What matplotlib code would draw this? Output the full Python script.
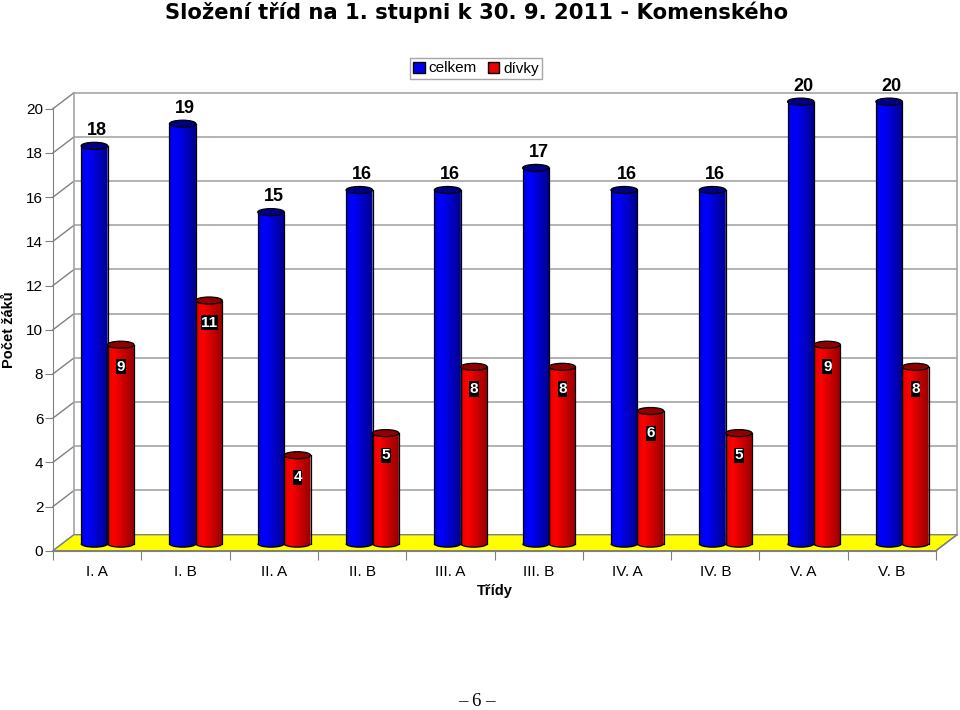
import numpy as np
import matplotlib
matplotlib.use("Agg")
import matplotlib.pyplot as plt
from matplotlib.patches import Arc, Ellipse, Patch, Polygon

classes = ["I. A", "I. B", "II. A", "II. B", "III. A", "III. B", "IV. A", "IV. B", "V. A", "V. B"]
celkem = [18, 19, 15, 16, 16, 17, 16, 16, 20, 20]
divky = [9, 11, 4, 5, 8, 8, 6, 5, 9, 8]
y_ticks = [0, 2, 4, 6, 8, 10, 12, 14, 16, 18, 20]

# hloubka grafu a valcu v jednotkach os
DEPTH_X = 0.238
DEPTH_Y = 0.724
BAR_LIFT = 0.32
BAR_W = 0.30
RY = 0.16
GRID = "#a6a6a6"
AXIS = "#808080"

plt.rcParams["font.family"] = ["Liberation Sans", "DejaVu Sans"]


def cylinder(ax, xc, value, bright, dark):
    base = BAR_LIFT
    top = value + BAR_LIFT
    left = xc - BAR_W / 2
    right = xc + BAR_W / 2
    bright = np.array(bright) / 255
    dark = np.array(dark) / 255
    # gradient: levy okraj trochu tmavsi, svetly pruh, doprava do tmava
    u = np.linspace(-1, 1, 48)
    t = np.where(u > -0.5, (u + 0.5) / 1.5, (-0.5 - u) / 2)
    grad = (bright * (1 - t[:, None]) + dark * t[:, None])[None, :, :]
    im = ax.imshow(grad, extent=(left, right, base - RY, top), aspect="auto",
                   interpolation="bilinear", zorder=4)
    # obrys valce se zaoblenym spodkem
    theta = np.linspace(np.pi, 2 * np.pi, 40)
    outline = np.column_stack([xc + BAR_W / 2 * np.cos(theta), base + RY * np.sin(theta)])
    outline = np.vstack([outline, [right, top], [left, top]])
    clip = Polygon(outline, closed=True, transform=ax.transData)
    im.set_clip_path(clip)
    im.set_clip_box(ax.figure.bbox)
    ax.plot([left, left], [base, top], color="black", lw=0.9, zorder=5, clip_on=False)
    ax.plot([right, right], [base, top], color="black", lw=0.9, zorder=5, clip_on=False)
    ax.add_patch(Arc((xc, base), BAR_W, RY * 2, theta1=180, theta2=360, color="black",
                     lw=0.9, zorder=5, clip_on=False))
    ax.add_patch(Ellipse((xc, top), BAR_W, RY * 2, facecolor=tuple(dark * 0.95), edgecolor="black",
                         lw=0.9, zorder=5, clip_on=False))


fig = plt.figure(figsize=(9.6, 7.1), dpi=100)
ax = fig.add_axes([53 / 960, 1 - 550.7 / 710, 883 / 960, 442 / 710])

# zadni stena a podlaha
ax.add_patch(Polygon([(0, 0), (10, 0), (10 + DEPTH_X, DEPTH_Y), (DEPTH_X, DEPTH_Y)],
                     facecolor="#ffff00", edgecolor=AXIS, lw=1.0, clip_on=False, zorder=2))
for v in y_ticks[1:]:
    ax.plot([DEPTH_X, 10 + DEPTH_X], [v + DEPTH_Y] * 2, color=GRID, lw=1.2, clip_on=False, zorder=1)
for v in y_ticks:
    ax.plot([0, DEPTH_X], [v, v + DEPTH_Y], color=AXIS, lw=1.0, clip_on=False, zorder=1)
ax.plot([DEPTH_X] * 2, [DEPTH_Y, 20 + DEPTH_Y], color=GRID, lw=1.2, clip_on=False, zorder=1)
ax.plot([10 + DEPTH_X] * 2, [DEPTH_Y, 20 + DEPTH_Y], color=GRID, lw=1.2, clip_on=False, zorder=1)
ax.plot([10, 10 + DEPTH_X], [0, DEPTH_Y], color=AXIS, lw=1.0, clip_on=False, zorder=2)

for i, (c, d) in enumerate(zip(celkem, divky)):
    xb = i + 0.469
    xr = i + 0.767
    cylinder(ax, xb, c, (0, 0, 255), (0, 0, 140))
    cylinder(ax, xr, d, (255, 0, 0), (150, 0, 0))
    ax.text(xb + 0.03, c + BAR_LIFT + RY + 0.14, str(c), ha="center", va="bottom",
            fontsize=13, fontweight="bold", color="black", zorder=6, clip_on=False)
    ax.text(xr + 0.002, d + BAR_LIFT - 1, str(d), ha="center", va="center",
            fontsize=11, fontweight="bold", color="white", zorder=6,
            bbox=dict(facecolor="black", edgecolor="none", pad=0.4))

ax.set_xlim(0, len(classes))
ax.set_ylim(0, 20)

for name in ("top", "right"):
    ax.spines[name].set_visible(False)
ax.spines["left"].set_color(AXIS)
ax.spines["bottom"].set_color(AXIS)
ax.patch.set_alpha(0)

ax.set_yticks(y_ticks)
ax.tick_params(axis="y", length=5.5, color=AXIS, labelsize=11, pad=1.5)
ax.set_xticks(np.arange(len(classes) + 1))
ax.set_xticklabels([])
ax.tick_params(axis="x", which="major", length=6.5, color=AXIS)
ax.set_xticks(np.arange(len(classes)) + 0.5, minor=True)
ax.set_xticklabels(classes, minor=True, fontsize=11)
ax.tick_params(axis="x", which="minor", length=0, pad=10)

handles = [Patch(facecolor="#0000ee", edgecolor="black", label="celkem"),
           Patch(facecolor="#ee0000", edgecolor="black", label="dívky")]
leg = ax.legend(handles=handles, ncols=2, loc="center", bbox_to_anchor=(476 / 960, 1 - 68.5 / 710),
                bbox_transform=fig.transFigure, fontsize=11, frameon=True, fancybox=False,
                framealpha=1, edgecolor="#a6a6a6", handlelength=0.75, handleheight=0.75,
                handletextpad=0.25, columnspacing=0.7, borderpad=0.25, borderaxespad=0)
leg.set_zorder(7)

fig.text(476.5 / 960, 1 - 12.5 / 710, "Složení tříd na 1. stupni k 30. 9. 2011 - Komenského",
         ha="center", va="center", fontsize=15.2, fontweight="bold", family="DejaVu Sans")
fig.text(9 / 960, 1 - 330 / 710, "Počet žáků", rotation=90, ha="center", va="center",
         fontsize=10.5, fontweight="bold")
fig.text(495 / 960, 1 - 591 / 710, "Třídy", ha="center", va="center", fontsize=10.5, fontweight="bold")
fig.text(476.5 / 960, 1 - 702 / 710, "– 6 –", ha="center", va="center", fontsize=13.5,
         family="Liberation Serif")

fig.savefig("out.png", dpi=100)
